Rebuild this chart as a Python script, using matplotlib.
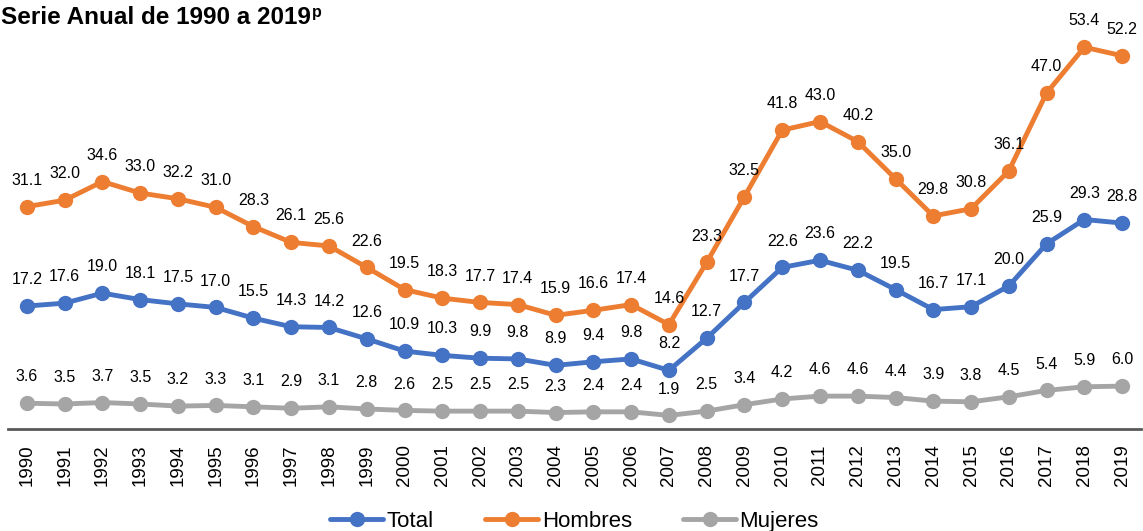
import matplotlib.pyplot as plt

plt.rcParams['font.family'] = ['Liberation Sans', 'DejaVu Sans']

years = [str(y) for y in range(1990, 2020)]
total = [17.2, 17.6, 19.0, 18.1, 17.5, 17.0, 15.5, 14.3, 14.2, 12.6, 10.9, 10.3, 9.9, 9.8, 8.9,
         9.4, 9.8, 8.2, 12.7, 17.7, 22.6, 23.6, 22.2, 19.5, 16.7, 17.1, 20.0, 25.9, 29.3, 28.8]
hombres = [31.1, 32.0, 34.6, 33.0, 32.2, 31.0, 28.3, 26.1, 25.6, 22.6, 19.5, 18.3, 17.7, 17.4, 15.9,
           16.6, 17.4, 14.6, 23.3, 32.5, 41.8, 43.0, 40.2, 35.0, 29.8, 30.8, 36.1, 47.0, 53.4, 52.2]
mujeres = [3.6, 3.5, 3.7, 3.5, 3.2, 3.3, 3.1, 2.9, 3.1, 2.8, 2.6, 2.5, 2.5, 2.5, 2.3,
           2.4, 2.4, 1.9, 2.5, 3.4, 4.2, 4.6, 4.6, 4.4, 3.9, 3.8, 4.5, 5.4, 5.9, 6.0]

series = [('Total', total, '#4472C4'),
          ('Hombres', hombres, '#ED7D31'),
          ('Mujeres', mujeres, '#A5A5A5')]

fig = plt.figure(figsize=(11.43, 5.31), dpi=100)
ax = fig.add_axes([8 / 1143, 102 / 531, 1133 / 1143, 429 / 531])

x = range(len(years))
for name, vals, col in series:
    ax.plot(x, vals, color=col, lw=3.5, marker='o', markersize=10, label=name,
            solid_capstyle='round')
    for xi, v in zip(x, vals):
        ax.annotate(f'{v:.1f}', (xi, v), xytext=(0, 19), textcoords='offset points',
                    ha='center', va='center', fontsize=11.5, color='black')

ax.set_xlim(-0.5, len(years) - 0.5)
ax.set_ylim(0, 60)
ax.set_xticks(list(x))
ax.set_xticklabels(years, rotation=90, fontsize=13.5)
ax.tick_params(axis='x', length=0, pad=11)
ax.set_yticks([])
for s in ['top', 'right', 'left']:
    ax.spines[s].set_visible(False)
ax.spines['bottom'].set_color('#595959')
ax.spines['bottom'].set_linewidth(2)
ax.patch.set_alpha(0)

fig.text(1 / 1143, 1 - 17 / 531, 'Serie Anual de 1990 a 2019', fontsize=17.5, fontweight='bold',
         va='center', ha='left')
fig.text(312 / 1143, 1 - 13 / 531, 'p', fontsize=11.5, fontweight='bold', va='center', ha='left')

ax.legend(loc='center', bbox_to_anchor=(0.5, -0.215), ncol=3, frameon=False, fontsize=16,
          handlelength=2.4, handletextpad=0.15, columnspacing=2.3)

fig.savefig('out.png', dpi=100)
